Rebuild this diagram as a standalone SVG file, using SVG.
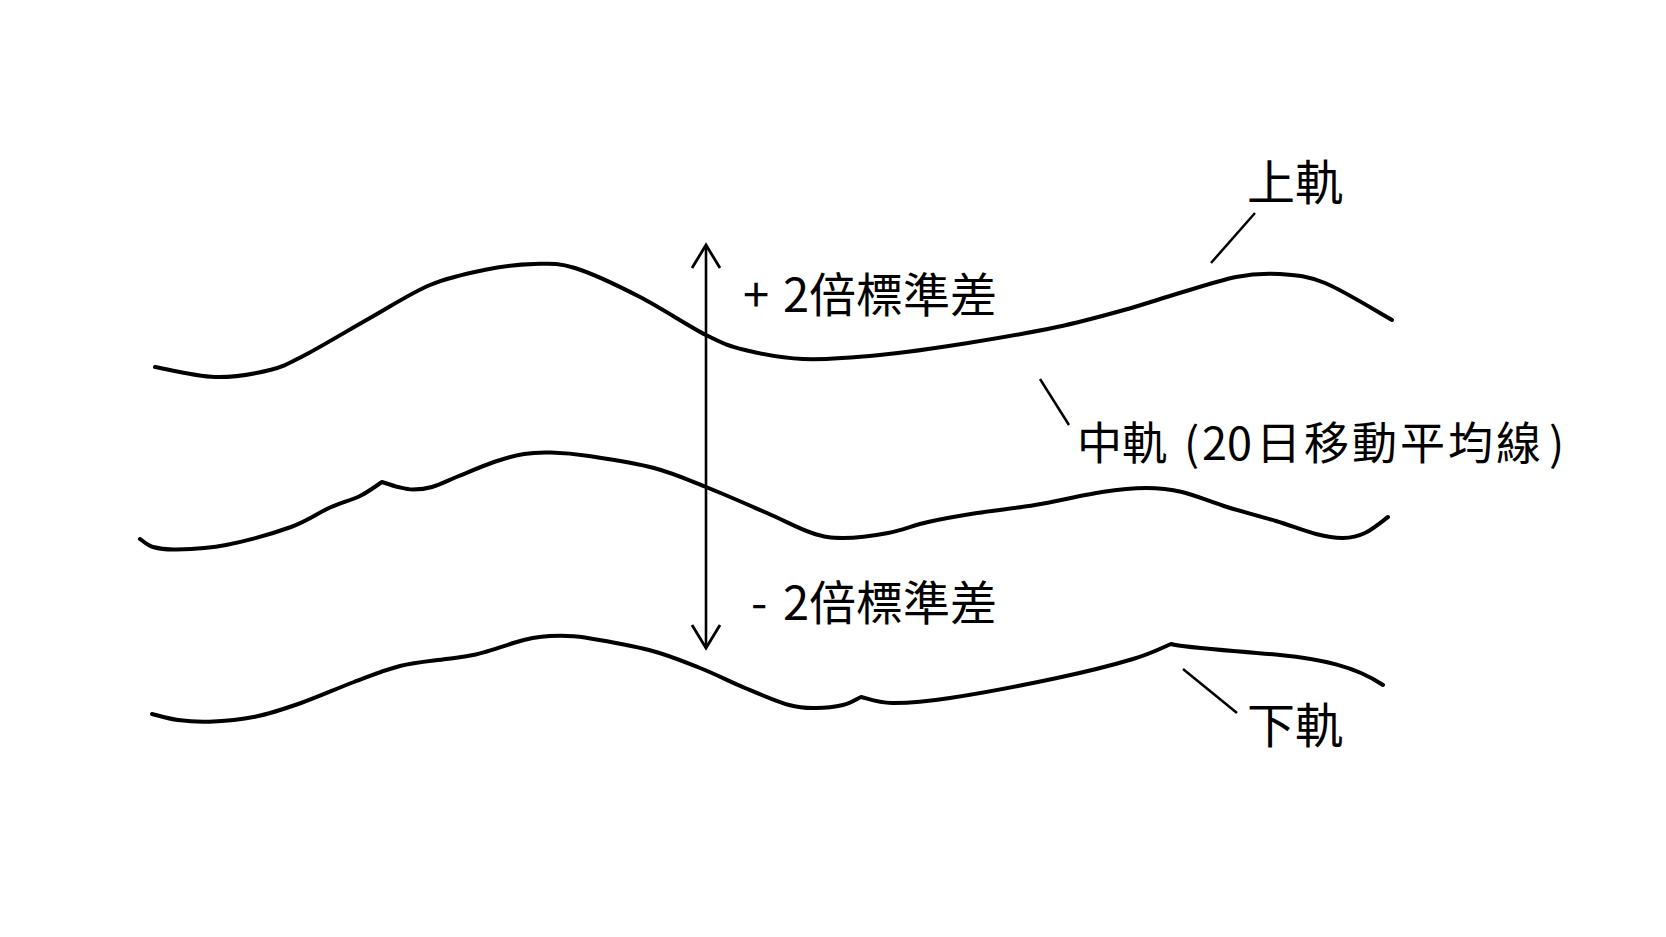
<svg xmlns="http://www.w3.org/2000/svg" width="1666" height="937" viewBox="0 0 1666 937">
<style>
.band{fill:none;stroke:#000;stroke-width:4;stroke-linecap:round;stroke-linejoin:round}
.lead{fill:none;stroke:#000;stroke-width:2.5;stroke-linecap:butt}
.axis{fill:none;stroke:#000;stroke-width:2.6}
.lbl{font-family:"Noto Sans CJK TC","Noto Sans CJK JP",sans-serif;fill:#000}
</style>
<defs>
<marker id="open" markerUnits="userSpaceOnUse" markerWidth="30" markerHeight="30" viewBox="-25 -15 27 30" refX="0" refY="0" orient="auto-start-reverse" overflow="visible">
<path d="M-23,-14 L0,0 L-23,14" fill="none" stroke="#000" stroke-width="2.8"/>
</marker>
</defs>
<rect width="1666" height="937" fill="#fff"/>
<g id="upper-band">
<path class="band" d="M155,367 C165,368.7 195.8,376.5 215,377 S255,373.7 270,370 S288.3,363.7 305,355 S349.2,329.7 370,318 S411,293 430,285 S466.7,273.5 484,270 S518.8,264.3 534,264 S557.3,262.5 575,268 S618.2,285.8 640,297 S688.5,326.2 706,335 S728.8,346 745,350 S780.5,358.2 803,359 S852.5,357.7 880,355 S938.5,347.7 968,343 S1031,332.5 1057,327 S1105.2,315.2 1124,310 S1151.3,301.5 1170,296 S1217.7,280.7 1236,277 S1265.2,273 1280,274 S1306.3,275.3 1325,283 S1380.8,313.8 1392,320"/>
</g>
<g id="middle-band">
<path class="band" d="M140,539 C142.2,540.3 147,545.3 153,547 S163.8,549.8 176,549.5 S206.8,548.8 226,545 S273.8,533.2 291,527 S317.5,513.2 329,508 S351.2,500.3 360,496 S378.3,484.3 382,482 C384.7,482.8 392.8,485.8 398,487 S407.3,489.5 413,489.5 S424.3,489.3 432,487 S448.7,480.2 459,476 S483.2,465.7 494,462 S514.5,455.6 524,454 S540.2,452.2 551,452.5 S571.8,453.4 589,456 S634.5,462.8 654,468 S687.2,479.5 706,487 S749.3,505.3 767,513 S799.3,528.8 812,533 S830.3,538 843,538 S873.8,535.7 888,533 S913.2,525.3 928,522 S959.2,515.8 977,513 S1014.2,508.5 1035,505 S1083.5,494.8 1102,492 S1132.7,488 1146,488 S1168.5,488.8 1182,492 S1211.3,502.2 1227,507 S1261.2,516.5 1276,521 S1304.8,531.2 1316,534 S1334.8,538.2 1343,538 S1357.5,536.5 1365,533 S1384.2,519.7 1388,517"/>
</g>
<g id="lower-band">
<path class="band" d="M152,714 C156.3,715 168.5,718.7 178,720 S196.2,722.2 209,721.7 S239.7,719.8 255,716.7 S284.5,708.8 301,703 S337.5,688.2 354,682 S384.7,669.8 400,666 S433.8,660.8 446,659 S460.2,657.7 473,655 S501,647 515,642.5 S539,636.5 550,636 S573,635.5 585,637.5 S628,644.5 649,650 S684,661.7 700,668 S730.2,681.8 745,688 S777.2,701.7 789,705 S807,708 816,708 S835.5,706.8 843,705 S858,698.3 861,697 C866.2,698 877.2,702.8 892,703 S922.5,702.2 950,698 S1026.5,684.5 1057,678 S1114,664.7 1133,659 S1164.7,646.5 1171,644 C1185,648 1240,651 1280,655 C1320,659 1355,666 1383,685"/>
</g>
<g id="connectors">
<line class="axis" x1="706" y1="245" x2="706" y2="648" marker-start="url(#open)" marker-end="url(#open)"/>
<line class="lead" x1="1255" y1="213" x2="1211" y2="263"/>
<line class="lead" x1="1040" y1="379" x2="1069" y2="425"/>
<line class="lead" x1="1183" y1="669" x2="1237" y2="713"/>
</g>
<g id="label-plus">
<text class="lbl" font-size="47" y="312"><tspan x="743">+</tspan><tspan x="783">2倍標準差</tspan></text>
</g>
<g id="label-minus">
<text class="lbl" font-size="47" y="620"><tspan x="751">-</tspan><tspan x="783">2倍標準差</tspan></text>
</g>
<g id="label-upper">
<text class="lbl" font-size="48" x="1247" y="200">上軌</text>
</g>
<g id="label-middle">
<text class="lbl" font-size="45" y="460"><tspan x="1077">中軌</tspan><tspan x="1184">(</tspan><tspan x="1202">20</tspan><tspan x="1256" letter-spacing="3">日移動平均線</tspan><tspan x="1549">)</tspan></text>
</g>
<g id="label-lower">
<text class="lbl" font-size="48" x="1247" y="743">下軌</text>
</g>
</svg>
